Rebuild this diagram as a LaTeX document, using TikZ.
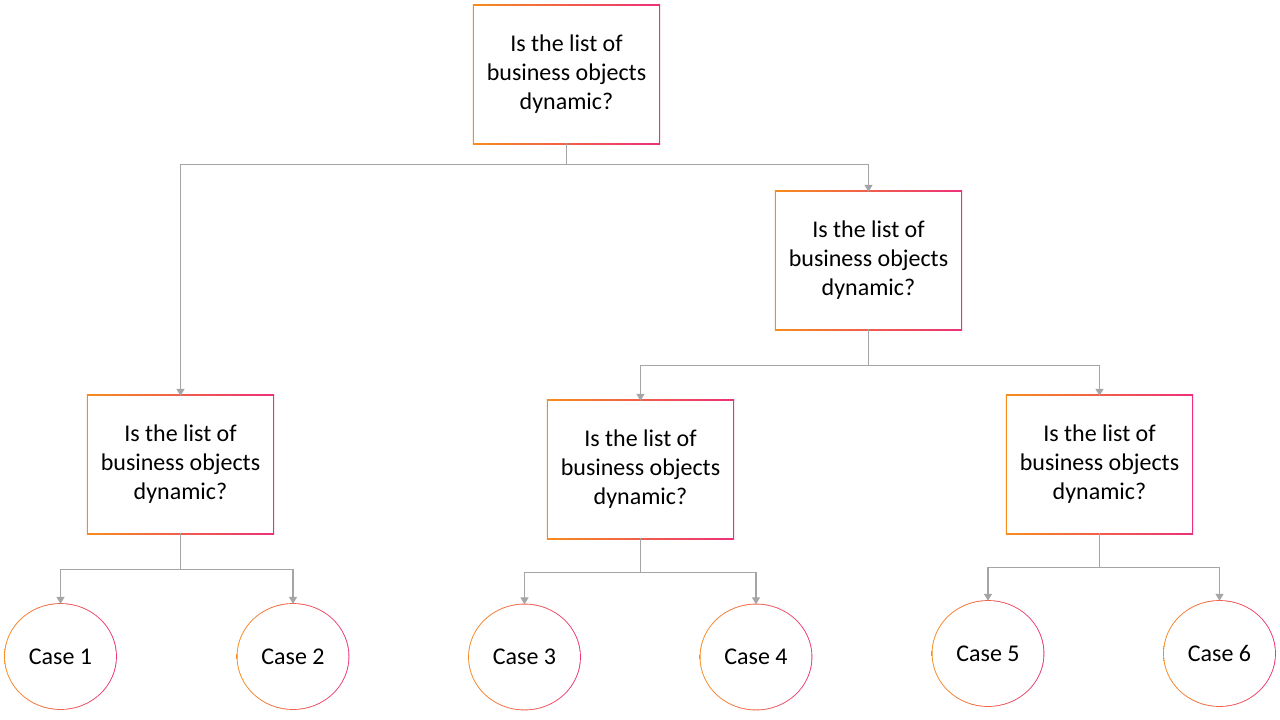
\documentclass[tikz,border=0pt]{standalone}
\usepackage{fontspec}
\setmainfont{Carlito}
\usetikzlibrary{arrows.meta,shapes.geometric,backgrounds}
\definecolor{gradA}{RGB}{247,140,28}
\definecolor{gradB}{RGB}{236,48,122}
\definecolor{conn}{RGB}{165,165,165}
\tikzset{
  qbox/.style={rectangle, fill=white, minimum width=185pt, minimum height=137pt,
    inner sep=0pt, align=center, font=\fontsize{24}{29}\selectfont},
  casenode/.style={ellipse, fill=white, minimum width=111pt, minimum height=105pt,
    inner sep=0pt, font=\fontsize{24}{29}\selectfont},
  link/.style={draw=conn, line width=1.3pt, -{Triangle[width=8pt,length=7pt]}},
  plainlink/.style={draw=conn, line width=1.3pt},
}
\newcommand{\qtext}{Is the list of\\business objects\\dynamic?}
\begin{document}
\begin{tikzpicture}[x=1pt,y=-1pt]
\useasboundingbox (0,0) rectangle (1280,720);

\node[qbox] (q0) at (566.5,74.5) {\qtext};
\node[qbox] (q1) at (868.5,260.5) {\qtext};
\node[qbox] (q2) at (180.5,464.5) {\qtext};
\node[qbox] (q3) at (640.5,469.5) {\qtext};
\node[qbox] (q4) at (1099.5,464.5) {\qtext};

\node[casenode] (c1) at (60.5,656.5) {Case 1};
\node[casenode] (c2) at (293,656.5) {Case 2};
\node[casenode] (c3) at (524.5,657) {Case 3};
\node[casenode] (c4) at (756,657) {Case 4};
\node[casenode] (c5) at (988,653.5) {Case 5};
\node[casenode] (c6) at (1219.5,653.5) {Case 6};

\begin{scope}[on background layer]
  \fill[white] (0,0) rectangle (1280,720);
  \foreach \n in {q0,q1,q2,q3,q4}{
    \shade[left color=gradA, right color=gradB]
      ([shift={(-0.9pt,-0.9pt)}]\n.south west) rectangle ([shift={(0.9pt,0.9pt)}]\n.north east);
  }
  \foreach \n in {c1,c2,c3,c4,c5,c6}{
    \shade[left color=gradA, right color=gradB]
      (\n.center) ellipse [x radius=56.4pt, y radius=53.4pt];
  }
\end{scope}

% connectors
\coordinate (j0) at ([yshift=-21pt]q0.south);
\draw[plainlink] (q0.south) -- (j0);
\draw[link] (j0) -| (q2.north);
\draw[link] (j0) -| (q1.north);

\coordinate (j1) at ([yshift=-36pt]q1.south);
\draw[plainlink] (q1.south) -- (j1);
\draw[link] (j1) -| (q3.north);
\draw[link] (j1) -| (q4.north);

\coordinate (j2) at ([yshift=-36pt]q2.south);
\draw[plainlink] (q2.south) -- (j2);
\draw[link] (j2) -| (c1.north);
\draw[link] (j2) -| (c2.north);

\coordinate (j3) at ([yshift=-34pt]q3.south);
\draw[plainlink] (q3.south) -- (j3);
\draw[link] (j3) -| (c3.north);
\draw[link] (j3) -| (c4.north);

\coordinate (j4) at ([yshift=-34pt]q4.south);
\draw[plainlink] (q4.south) -- (j4);
\draw[link] (j4) -| (c5.north);
\draw[link] (j4) -| (c6.north);
\end{tikzpicture}
\end{document}
